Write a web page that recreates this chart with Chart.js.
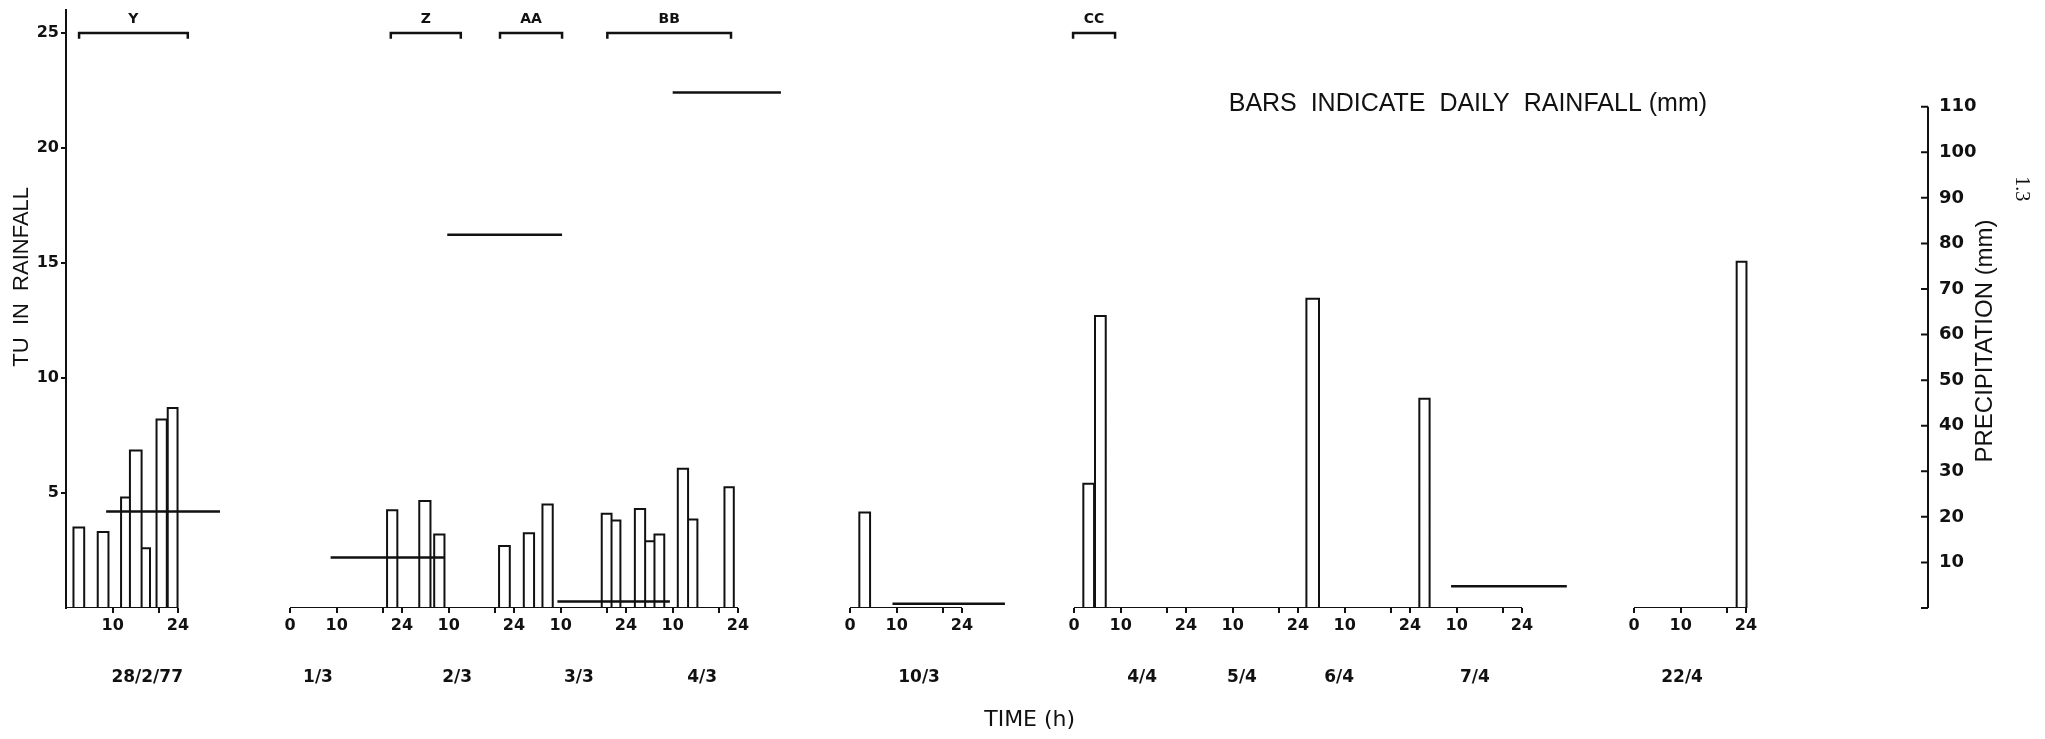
<!DOCTYPE html>
<html>
<head>
<meta charset="utf-8">
<title>TU in rainfall</title>
<script src="https://cdn.jsdelivr.net/npm/chart.js@4/dist/chart.umd.min.js"></script>
<style>
  html, body { margin: 0; padding: 0; background: #fff; }
  #wrap { position: relative; width: 2045px; height: 739px; }
</style>
</head>
<body>
<div id="wrap"><canvas id="tuChart"></canvas></div>
<script>
// --- Data ---
// Time axis is in hours on a compressed scale: 0 = 28/2/77 00h, each day slot = 24 h
// Rain samples (vertical boxes): start hour, end hour, tritium units
const sampleStart = [1.6, 6.8, 11.8, 13.7, 16.2, 19.4, 21.8,
  68.8, 75.7, 78.9, 92.8, 98.1, 102.1, 114.8, 116.9, 121.9, 124.1, 126.1, 131.1, 133.3, 141.1,
  170.0, 218.0, 220.5, 265.8, 290.0, 358.0];
const sampleEnd = [3.9, 9.1, 13.7, 16.2, 18.0, 21.6, 23.9,
  71.0, 78.1, 81.1, 95.1, 100.3, 104.3, 116.9, 118.8, 124.1, 126.1, 128.2, 133.3, 135.3, 143.1,
  172.3, 220.3, 222.8, 268.5, 292.2, 360.1];
const sampleTU = [3.5, 3.3, 4.8, 6.85, 2.6, 8.2, 8.7,
  4.25, 4.65, 3.2, 2.7, 3.25, 4.5, 4.1, 3.8, 4.3, 2.9, 3.2, 6.05, 3.85, 5.25,
  4.15, 5.4, 12.7, 13.45, 9.1, 15.05];

// Daily rainfall (horizontal lines, right axis, mm)
const rainStart = [8.6, 56.7, 81.7, 105.3, 130.0, 177.1, 296.8];
const rainEnd = [33.0, 81.1, 106.3, 129.4, 153.2, 201.2, 321.6];
const rainMm = [21.2, 11.1, 81.9, 1.4, 113.1, 0.95, 4.8];

// Broken time axis: segment start hour and number of days
const segmentStart = [0, 48, 168, 216, 336];
const segmentDays = [1, 4, 1, 4, 1];
const segmentZeroLabel = [false, true, true, true, true];

// Date labels under the hour ticks
const dayLabels = ['28/2/77', '1/3', '2/3', '3/3', '4/3', '10/3', '4/4', '5/4', '6/4', '7/4', '22/4'];
const dayLabelPos = [17.4, 54, 83.8, 109.9, 136.3, 182.8, 230.6, 252, 272.8, 301.9, 346.3];

// Sample groups marked at the top
const bracketNames = ['Y', 'Z', 'AA', 'BB', 'CC'];
const bracketStart = [2.8, 69.6, 93.0, 116.0, 215.8];
const bracketEnd = [26.1, 84.6, 106.3, 142.5, 224.8];

const leftTicks = [5, 10, 15, 20, 25];
const rightTicks = [10, 20, 30, 40, 50, 60, 70, 80, 90, 100, 110];

// --- Axis ranges ---
const X_MAX = 399;
const TU_MAX = 26;
const MM_PER_TU = 5.047; // 25 TU lines up with ~126 mm

// Hour ticks: 0 at segment start, then 10, 20 (unlabelled), 24 for each day
const hourTicks = [];
const hourTickLabels = [];
segmentStart.forEach((start, i) => {
    if (segmentZeroLabel[i]) {
        hourTicks.push(start);
        hourTickLabels.push('0');
    }
    for (let d = 0; d < segmentDays[i]; d++) {
        const base = start + d * 24;
        hourTicks.push(base + 10, base + 20, base + 24);
        hourTickLabels.push('10', '', '24');
    }
});

// --- Dataset builders ---
function boxOutline(starts, ends, values) {
    const pts = [];
    starts.forEach((s, i) => {
        pts.push({ x: s, y: 0 }, { x: s, y: values[i] }, { x: ends[i], y: values[i] }, { x: ends[i], y: 0 });
        pts.push({ x: ends[i], y: null });
    });
    return pts;
}

function flatLines(starts, ends, values) {
    const pts = [];
    starts.forEach((s, i) => {
        pts.push({ x: s, y: values[i] }, { x: ends[i], y: values[i] }, { x: ends[i], y: null });
    });
    return pts;
}

function bracketLines() {
    const pts = [];
    const hook = 0.25;
    bracketStart.forEach((s, i) => {
        const e = bracketEnd[i];
        pts.push({ x: s, y: 25 - hook }, { x: s, y: 25 }, { x: e, y: 25 }, { x: e, y: 25 - hook }, { x: e, y: null });
    });
    return pts;
}

const baselineStart = segmentStart;
const baselineEnd = segmentStart.map((s, i) => s + 24 * segmentDays[i]);

const INK = '#111';

// keep axis label overhang from pushing the plot area around
function fixWidth(w) {
    return s => { s.width = w; s.paddingTop = 0; s.paddingBottom = 0; };
}
function fixHeight(h) {
    return s => { s.height = h; s.paddingLeft = 0; s.paddingRight = 0; };
}

// --- Text and right axis spine ---
function drawRotated(ctx, text, px, py, angle, font) {
    ctx.save();
    ctx.translate(px, py);
    ctx.rotate(angle);
    ctx.font = font;
    ctx.textAlign = 'center';
    ctx.textBaseline = 'middle';
    ctx.fillText(text, 0, 0);
    ctx.restore();
}

const figureText = {
    id: 'figureText',
    afterDraw(chart) {
        const { ctx, chartArea } = chart;
        const { x, y, y2 } = chart.scales;
        ctx.save();
        ctx.fillStyle = INK;
        ctx.strokeStyle = INK;

        // right axis only runs from 0 to 110 mm, ticks point inwards
        ctx.lineWidth = 2;
        ctx.beginPath();
        ctx.moveTo(chartArea.right, y2.getPixelForValue(0));
        ctx.lineTo(chartArea.right, y2.getPixelForValue(110));
        [0, ...rightTicks].forEach(v => {
            const py = y2.getPixelForValue(v);
            ctx.moveTo(chartArea.right - 7, py);
            ctx.lineTo(chartArea.right, py);
        });
        ctx.stroke();

        // group labels over the brackets
        ctx.font = 'bold 14px "DejaVu Sans"';
        ctx.textAlign = 'center';
        ctx.textBaseline = 'middle';
        bracketNames.forEach((name, i) => {
            const cx = x.getPixelForValue((bracketStart[i] + bracketEnd[i]) / 2);
            ctx.fillText(name, cx, y.getPixelForValue(25) - 14);
        });

        // note
        ctx.font = '25px "Liberation Sans"';
        ctx.fillText('BARS  INDICATE  DAILY  RAINFALL (mm)', x.getPixelForValue(300.4), y.getPixelForValue(21.9));

        // axis titles
        drawRotated(ctx, 'TU  IN  RAINFALL', chartArea.left - 44, y.getPixelForValue(14.4), -Math.PI / 2, '22px "Liberation Sans"');
        drawRotated(ctx, 'PRECIPITATION (mm)', chartArea.right + 57, y2.getPixelForValue(58.6), -Math.PI / 2, '24px "Liberation Sans"');
        drawRotated(ctx, '1.3', chartArea.right + 93, y2.getPixelForValue(92), Math.PI / 2, '20px "Liberation Serif"');

        ctx.font = '22px "DejaVu Sans"';
        ctx.fillText('TIME (h)', x.getPixelForValue(206.5), chartArea.bottom + 112);
        ctx.restore();
    }
};

// --- Chart ---
Chart.defaults.font.family = '"DejaVu Sans", sans-serif';
Chart.defaults.color = INK;

const ctx = document.getElementById('tuChart').getContext('2d');
new Chart(ctx, {
    type: 'line',
    data: {
        datasets: [
            {
                label: 'TU in rainfall',
                data: boxOutline(sampleStart, sampleEnd, sampleTU),
                yAxisID: 'y',
                borderColor: INK,
                borderWidth: 2,
                pointRadius: 0,
                spanGaps: false,
                tension: 0
            },
            {
                label: 'Daily rainfall (mm)',
                data: flatLines(rainStart, rainEnd, rainMm),
                yAxisID: 'y2',
                borderColor: INK,
                borderWidth: 2.5,
                pointRadius: 0,
                spanGaps: false
            },
            {
                label: 'time axis',
                data: flatLines(baselineStart, baselineEnd, baselineStart.map(() => 0)),
                yAxisID: 'y',
                borderColor: INK,
                borderWidth: 2,
                pointRadius: 0,
                spanGaps: false
            },
            {
                label: 'sample groups',
                data: bracketLines(),
                yAxisID: 'y',
                borderColor: INK,
                borderWidth: 2.5,
                pointRadius: 0,
                spanGaps: false
            }
        ]
    },
    options: {
        responsive: true,
        maintainAspectRatio: false,
        animation: false,
        layout: { padding: { top: 10, left: 0, right: 0, bottom: 0 } },
        plugins: {
            legend: { display: false },
            tooltip: { enabled: false }
        },
        scales: {
            x: {
                type: 'linear',
                axis: 'x',
                position: 'bottom',
                weight: 0,
                min: 0,
                max: X_MAX,
                afterFit: fixHeight(30),
                afterBuildTicks: s => { s.ticks = hourTicks.map(v => ({ value: v })); },
                border: { display: false },
                grid: { drawOnChartArea: false, color: INK, lineWidth: 2, tickLength: 5 },
                ticks: {
                    autoSkip: false,
                    maxRotation: 0,
                    padding: 3,
                    font: { size: 16, weight: 'bold' },
                    callback: (value, index) => hourTickLabels[index]
                }
            },
            x2: {
                type: 'linear',
                axis: 'x',
                position: 'bottom',
                weight: 1,
                min: 0,
                max: X_MAX,
                afterFit: fixHeight(101),
                afterBuildTicks: s => { s.ticks = dayLabelPos.map(v => ({ value: v })); },
                border: { display: false },
                grid: { display: false, drawTicks: false },
                ticks: {
                    autoSkip: false,
                    maxRotation: 0,
                    padding: 29,
                    font: { size: 17, weight: 'bold' },
                    callback: (value, index) => dayLabels[index]
                }
            },
            y: {
                position: 'left',
                min: 0,
                max: TU_MAX,
                afterFit: fixWidth(66),
                afterBuildTicks: s => { s.ticks = leftTicks.map(v => ({ value: v })); },
                border: { display: true, color: INK, width: 2 },
                grid: { drawOnChartArea: false, color: INK, lineWidth: 2, tickLength: 5 },
                ticks: { padding: 2, font: { size: 16, weight: 'bold' } }
            },
            y2: {
                position: 'right',
                min: 0,
                max: TU_MAX * MM_PER_TU,
                afterFit: fixWidth(117),
                afterBuildTicks: s => { s.ticks = rightTicks.map(v => ({ value: v })); },
                border: { display: false },
                grid: { display: false, drawTicks: false },
                ticks: { padding: 11, font: { size: 18, weight: 'bold' } }
            }
        }
    },
    plugins: [figureText]
});
</script>
</body>
</html>
